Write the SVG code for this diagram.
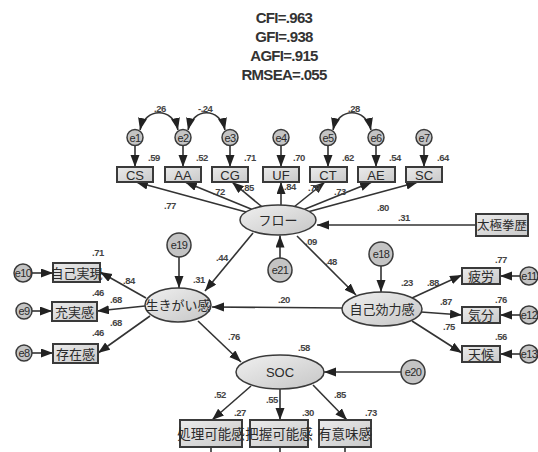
<svg xmlns="http://www.w3.org/2000/svg" width="538" height="452" viewBox="0 0 538 452">
<style>
text{font-family:"Liberation Sans",Arial,"Noto Sans CJK JP",sans-serif;fill:#2a2a2a}
.t{font-size:15px;text-anchor:middle;letter-spacing:-0.7px;font-weight:bold;fill:#333}
.c{font-size:9.5px;letter-spacing:-0.5px;font-weight:bold;fill:#444}
.n{font-size:13px;text-anchor:middle}
.j{font-size:13px;text-anchor:middle;font-family:"Noto Sans CJK JP","Liberation Sans",sans-serif}
.e{font-size:11px;text-anchor:middle;letter-spacing:-0.6px}
.box{fill:url(#gb);stroke:#3a3a3a;stroke-width:2}
.ell{fill:url(#ge);stroke:#3a3a3a;stroke-width:1.5}
.cir{fill:#c4c4c4;stroke:#3a3a3a;stroke-width:1.5}
.a{stroke:#333;stroke-width:1.6;fill:none;marker-end:url(#ah)}
.cv{stroke:#333;stroke-width:1.6;fill:none;marker-start:url(#ah);marker-end:url(#ah)}
.l{stroke:#333;stroke-width:1.6}
</style>
<defs>
<linearGradient id="gb" x1="0" y1="0" x2="1" y2="1"><stop offset="0" stop-color="#ebebeb"/><stop offset="1" stop-color="#c9c9c9"/></linearGradient>
<linearGradient id="ge" x1="0" y1="0" x2="1" y2="1"><stop offset="0" stop-color="#f0f0f0"/><stop offset="1" stop-color="#c6c6c6"/></linearGradient>
<marker id="ah" markerUnits="userSpaceOnUse" markerWidth="13" markerHeight="10" refX="12" refY="4.5" orient="auto-start-reverse"><path d="M0,0 L12,4.5 L0,9 z" fill="#222"/></marker>
</defs>
<g id="fit">
<text class="t" x="284" y="23">CFI=.963</text>
<text class="t" x="284" y="42">GFI=.938</text>
<text class="t" x="284" y="61">AGFI=.915</text>
<text class="t" x="284" y="80">RMSEA=.055</text>
</g>
<g id="connectors">
<path class="cv" d="M140,130 C145,107 173,107 178,130"/>
<path class="cv" d="M188,130 C193,107 220,107 225,130"/>
<path class="cv" d="M333,130 C338,107 366,107 371,130"/>
<line class="a" x1="135" y1="145.5" x2="135" y2="167"/>
<line class="a" x1="183" y1="145.5" x2="183" y2="167"/>
<line class="a" x1="230" y1="145.5" x2="230" y2="167"/>
<line class="a" x1="281" y1="145.5" x2="281" y2="167"/>
<line class="a" x1="328" y1="145.5" x2="328" y2="167"/>
<line class="a" x1="376" y1="145.5" x2="376" y2="167"/>
<line class="a" x1="424" y1="145.5" x2="424" y2="167"/>
<line class="a" x1="246" y1="212" x2="136" y2="182"/>
<line class="a" x1="251.6" y1="209.2" x2="185" y2="182"/>
<line class="a" x1="261.6" y1="206.5" x2="232" y2="182"/>
<line class="a" x1="281" y1="205" x2="281" y2="182"/>
<line class="a" x1="294.6" y1="206.5" x2="325" y2="182"/>
<line class="a" x1="304.6" y1="209.2" x2="372" y2="182"/>
<line class="a" x1="309.3" y1="211.5" x2="418" y2="182"/>
<line class="a" x1="476" y1="225" x2="317" y2="225"/>
<line class="a" x1="280" y1="258" x2="280" y2="235.5"/>
<line class="a" x1="253" y1="233" x2="205" y2="291"/>
<line class="a" x1="297" y1="236" x2="356" y2="295"/>
<line class="a" x1="179" y1="257" x2="179" y2="288"/>
<line class="a" x1="381" y1="266" x2="381" y2="292"/>
<line class="a" x1="342" y1="308" x2="212" y2="307"/>
<line class="a" x1="146" y1="298" x2="100" y2="272"/>
<line class="a" x1="145" y1="306" x2="97" y2="311"/>
<line class="a" x1="150" y1="316" x2="98" y2="353"/>
<line class="a" x1="32" y1="273" x2="53" y2="273"/>
<line class="a" x1="32" y1="311" x2="52" y2="311"/>
<line class="a" x1="32" y1="353" x2="53" y2="353"/>
<line class="a" x1="412" y1="298" x2="462" y2="275"/>
<line class="a" x1="421" y1="312" x2="462" y2="315"/>
<line class="a" x1="412" y1="321" x2="462" y2="353"/>
<line class="a" x1="520" y1="276" x2="500" y2="276"/>
<line class="a" x1="520" y1="315" x2="500" y2="315"/>
<line class="a" x1="520" y1="354" x2="500" y2="354"/>
<line class="a" x1="198" y1="321" x2="241" y2="362"/>
<line class="a" x1="401" y1="372" x2="324" y2="372"/>
<line class="a" x1="251" y1="386" x2="212" y2="420"/>
<line class="a" x1="280" y1="389" x2="280" y2="420"/>
<line class="a" x1="313" y1="385" x2="347" y2="420"/>
<line class="l" x1="211" y1="447" x2="211" y2="452"/>
<line class="l" x1="280" y1="447" x2="280" y2="452"/>
<line class="l" x1="345" y1="447" x2="345" y2="452"/>
</g>
<g id="labels">
<text class="c" x="154" y="112">.26</text>
<text class="c" x="198" y="112">-.24</text>
<text class="c" x="348" y="112">.28</text>
<text class="c" x="148" y="161">.59</text>
<text class="c" x="196" y="161">.52</text>
<text class="c" x="244" y="161">.71</text>
<text class="c" x="293" y="161">.70</text>
<text class="c" x="342" y="161">.62</text>
<text class="c" x="389" y="161">.54</text>
<text class="c" x="437" y="161">.64</text>
<text class="c" x="164" y="209">.77</text>
<text class="c" x="213" y="195">.72</text>
<text class="c" x="242" y="191">.85</text>
<text class="c" x="284" y="190">.84</text>
<text class="c" x="308" y="191">.79</text>
<text class="c" x="334" y="195">.73</text>
<text class="c" x="377" y="211">.80</text>
<text class="c" x="398" y="221">.31</text>
<text class="c" x="216" y="261">.44</text>
<text class="c" x="305" y="245">.09</text>
<text class="c" x="325" y="265">.48</text>
<text class="c" x="193" y="283">.31</text>
<text class="c" x="401" y="286">.23</text>
<text class="c" x="278" y="303">.20</text>
<text class="c" x="123" y="284">.84</text>
<text class="c" x="110" y="303">.68</text>
<text class="c" x="110" y="326">.68</text>
<text class="c" x="92" y="256">.71</text>
<text class="c" x="92" y="296">.46</text>
<text class="c" x="92" y="336">.46</text>
<text class="c" x="427" y="286">.88</text>
<text class="c" x="440" y="305">.87</text>
<text class="c" x="443" y="330">.75</text>
<text class="c" x="495" y="263">.77</text>
<text class="c" x="495" y="303">.76</text>
<text class="c" x="495" y="340">.56</text>
<text class="c" x="228" y="340">.76</text>
<text class="c" x="298" y="351">.58</text>
<text class="c" x="214" y="398">.52</text>
<text class="c" x="266" y="403">.55</text>
<text class="c" x="334" y="398">.85</text>
<text class="c" x="234" y="416">.27</text>
<text class="c" x="302" y="416">.30</text>
<text class="c" x="365" y="416">.73</text>
</g>
<g id="e1"><circle class="cir" cx="135" cy="137.5" r="8"/><text class="e" x="135" y="141.5">e1</text></g>
<g id="e2"><circle class="cir" cx="183" cy="137.5" r="8"/><text class="e" x="183" y="141.5">e2</text></g>
<g id="e3"><circle class="cir" cx="230" cy="137.5" r="8"/><text class="e" x="230" y="141.5">e3</text></g>
<g id="e4"><circle class="cir" cx="281" cy="137.5" r="8"/><text class="e" x="281" y="141.5">e4</text></g>
<g id="e5"><circle class="cir" cx="328" cy="137.5" r="8"/><text class="e" x="328" y="141.5">e5</text></g>
<g id="e6"><circle class="cir" cx="376" cy="137.5" r="8"/><text class="e" x="376" y="141.5">e6</text></g>
<g id="e7"><circle class="cir" cx="424" cy="137.5" r="8"/><text class="e" x="424" y="141.5">e7</text></g>
<g id="CS"><rect class="box" x="117" y="167" width="36" height="15"/><text class="n" x="135" y="179.5">CS</text></g>
<g id="AA"><rect class="box" x="165" y="167" width="36" height="15"/><text class="n" x="183" y="179.5">AA</text></g>
<g id="CG"><rect class="box" x="212" y="167" width="36" height="15"/><text class="n" x="230" y="179.5">CG</text></g>
<g id="UF"><rect class="box" x="263" y="167" width="36" height="15"/><text class="n" x="281" y="179.5">UF</text></g>
<g id="CT"><rect class="box" x="310" y="167" width="37" height="15"/><text class="n" x="328" y="179.5">CT</text></g>
<g id="AE"><rect class="box" x="358" y="167" width="37" height="15"/><text class="n" x="376" y="179.5">AE</text></g>
<g id="SC"><rect class="box" x="406" y="167" width="36" height="15"/><text class="n" x="424" y="179.5">SC</text></g>
<g id="flow"><ellipse class="ell" cx="278" cy="220" rx="38" ry="15"/><text class="j" x="278" y="224.5">フロー</text></g>
<g id="taikyoku"><rect class="box" x="476" y="214" width="52" height="22"/><text class="j" x="502" y="230" style="font-size:12.5px">太極拳歴</text></g>
<g id="e21"><circle class="cir" cx="280" cy="270" r="12"/><text class="e" x="280" y="274">e21</text></g>
<g id="e19"><circle class="cir" cx="179" cy="245" r="12"/><text class="e" x="179" y="249">e19</text></g>
<g id="e18"><circle class="cir" cx="381" cy="254" r="12"/><text class="e" x="381" y="258">e18</text></g>
<g id="ikigai"><ellipse class="ell" cx="178" cy="305" rx="33" ry="17"/><text class="j" x="178" y="309.5">生きがい感</text></g>
<g id="jiko"><ellipse class="ell" cx="382" cy="309" rx="40" ry="17"/><text class="j" x="382" y="313.5">自己効力感</text></g>
<g id="e10"><circle class="cir" cx="23" cy="273" r="9"/><text class="e" x="23" y="277">e10</text></g>
<g id="e9"><circle class="cir" cx="24" cy="311" r="8"/><text class="e" x="24" y="315">e9</text></g>
<g id="e8"><circle class="cir" cx="24" cy="353" r="8"/><text class="e" x="24" y="357">e8</text></g>
<g id="jikojitsugen"><rect class="box" x="53" y="263" width="47" height="19"/><text class="j" x="76.5" y="277.5">自己実現</text></g>
<g id="jujitsu"><rect class="box" x="52" y="302" width="45" height="19"/><text class="j" x="74.5" y="316.5">充実感</text></g>
<g id="sonzai"><rect class="box" x="53" y="344" width="45" height="19"/><text class="j" x="75.5" y="358.5">存在感</text></g>
<g id="hirou"><rect class="box" x="462" y="268" width="38" height="16"/><text class="j" x="481" y="281">疲労</text></g>
<g id="kibun"><rect class="box" x="462" y="307" width="38" height="16"/><text class="j" x="481" y="320">気分</text></g>
<g id="tenkou"><rect class="box" x="462" y="346" width="38" height="16"/><text class="j" x="481" y="359">天候</text></g>
<g id="e11"><circle class="cir" cx="529" cy="276" r="9"/><text class="e" x="529" y="280">e11</text></g>
<g id="e12"><circle class="cir" cx="529" cy="315" r="9"/><text class="e" x="529" y="319">e12</text></g>
<g id="e13"><circle class="cir" cx="529" cy="354" r="9"/><text class="e" x="529" y="358">e13</text></g>
<g id="SOC"><ellipse class="ell" cx="280" cy="372" rx="44" ry="17"/><text class="n" x="280" y="376.5">SOC</text></g>
<g id="e20"><circle class="cir" cx="413" cy="372" r="12"/><text class="e" x="413" y="376">e20</text></g>
<g id="shori"><rect class="box" x="180" y="420" width="62" height="27"/><text class="j" x="211" y="438.5" style="font-size:13.5px">処理可能感</text></g>
<g id="haaku"><rect class="box" x="250" y="420" width="58" height="27"/><text class="j" x="279" y="438.5" style="font-size:13.5px">把握可能感</text></g>
<g id="imi"><rect class="box" x="319" y="420" width="52" height="27"/><text class="j" x="345" y="438.5" style="font-size:13.5px">有意味感</text></g>
</svg>
